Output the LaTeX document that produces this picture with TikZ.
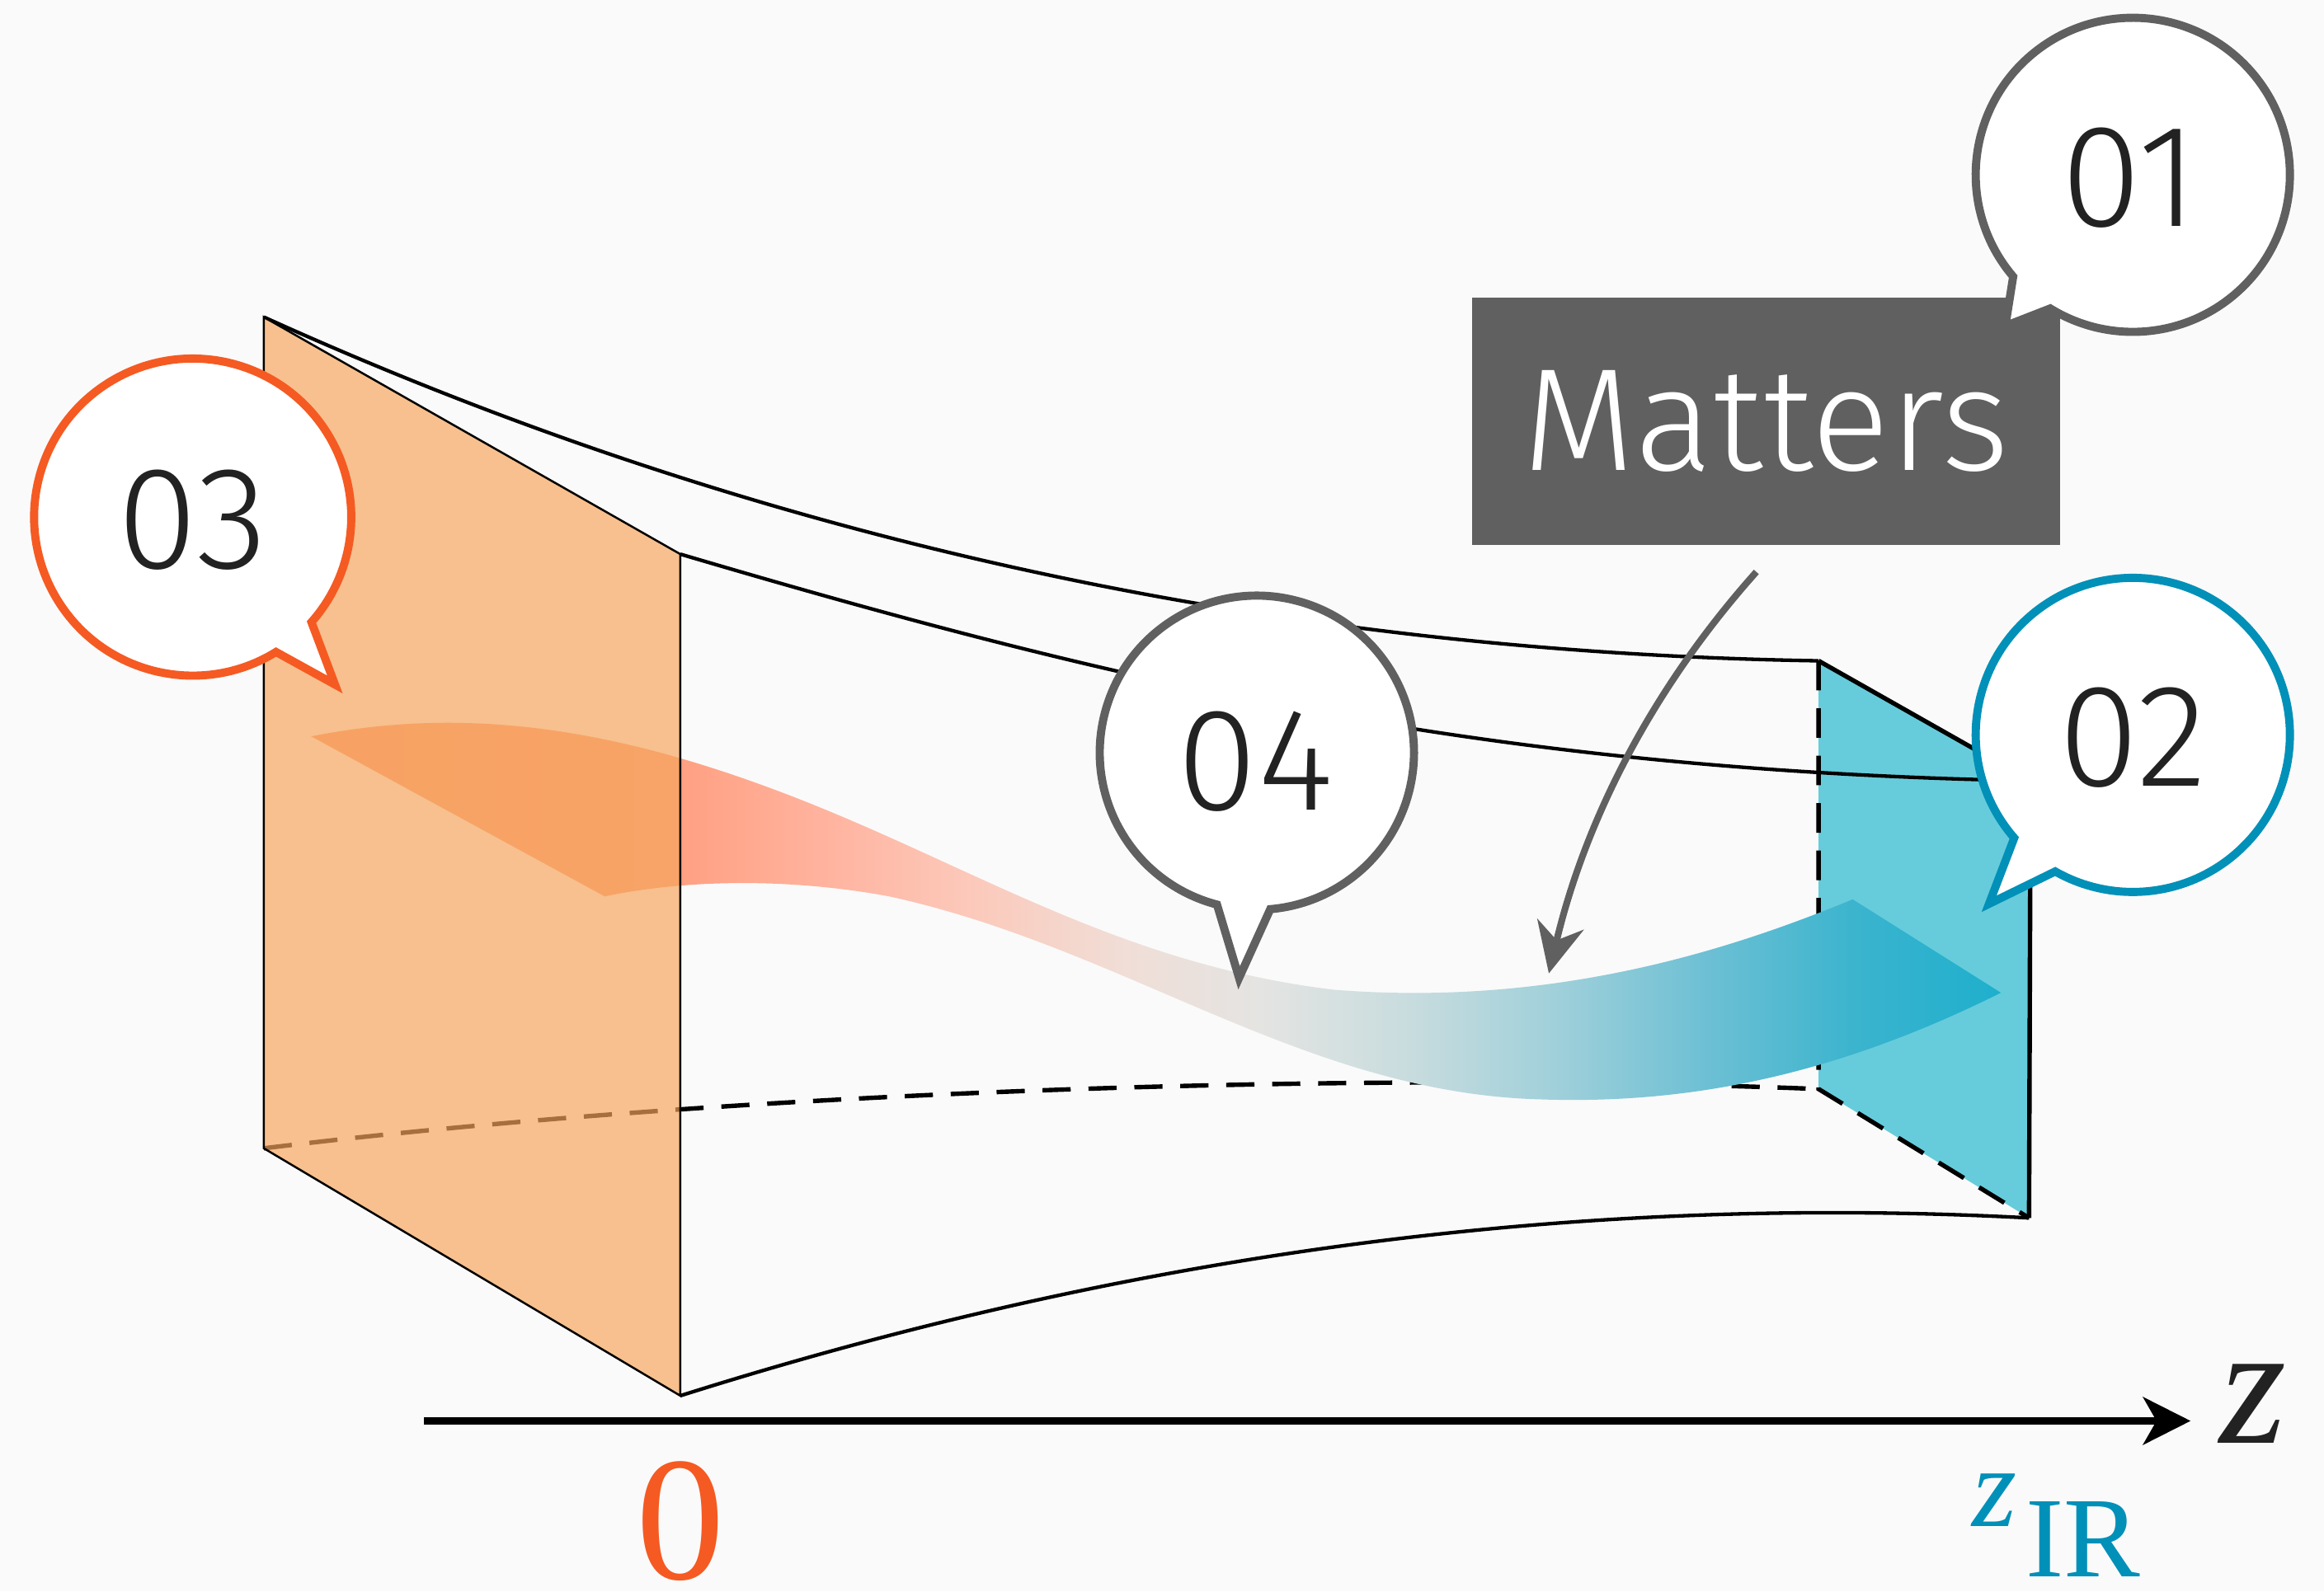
\documentclass[tikz,border=0pt]{standalone}
\usepackage{fontspec}
\setmainfont{Liberation Serif}
\IfFontExistsTF{Fira Sans Light}{\newfontfamily\bubfont{Fira Sans Light}\def\bubsize{28}}{\newfontfamily\bubfont{Liberation Sans}\def\bubsize{27}}
\usetikzlibrary{arrows.meta,calc}
\definecolor{bgc}{HTML}{FAFAFA}
\definecolor{plor}{RGB}{246,165,91}
\definecolor{cyanpl}{HTML}{66CCDB}
\definecolor{grayc}{HTML}{606060}
\definecolor{orc}{HTML}{F55A22}
\definecolor{tealc}{HTML}{0090B8}
\definecolor{txtc}{HTML}{222222}
\definecolor{ra}{RGB}{250,158,118}
\definecolor{rb}{RGB}{255,160,130}
\definecolor{rc}{RGB}{255,180,160}
\definecolor{rd}{RGB}{252,200,185}
\definecolor{re}{RGB}{240,222,215}
\definecolor{rf}{RGB}{228,228,226}
\definecolor{rg}{RGB}{200,220,222}
\definecolor{rh}{RGB}{160,208,218}
\definecolor{ri}{RGB}{110,192,212}
\definecolor{rj}{RGB}{60,180,206}
\definecolor{rk}{RGB}{30,175,205}
\pgfdeclarehorizontalshading{ribbonshade}{100bp}{color(0bp)=(ra); color(25bp)=(ra); color(35.9bp)=(rb); color(40.4bp)=(rc); color(44.3bp)=(rd); color(49.1bp)=(re); color(53.1bp)=(rf); color(57.5bp)=(rg); color(61.8bp)=(rh); color(66.2bp)=(ri); color(70.6bp)=(rj); color(75bp)=(rk); color(100bp)=(rk)}
\tikzset{
  curveline/.style={line width=0.24mm, black},
  hiddenline/.style={line width=0.3mm, black, dash pattern=on 1.9mm off 1.2mm},
  planeedge/.style={line width=0.14mm, black},
  cyanedge/.style={line width=0.3mm, black},
  bubble/.style={line width=0.55mm, fill=white, line join=miter},
  numtxt/.style={text=txtc, font=\bubfont\fontsize{\bubsize}{\bubsize}\selectfont, inner sep=0pt},
}
\begin{document}
\begin{tikzpicture}[x=0.1mm,y=-0.1mm]
\useasboundingbox (0,0) rectangle (1568,1074);
\fill[bgc] (0,0) rectangle (1568,1074);
% plane corners
\coordinate (OTL) at (178,214);
\coordinate (OTR) at (459,374);
\coordinate (OBR) at (459,942);
\coordinate (OBL) at (178,775);
\coordinate (CTL) at (1227,446);
\coordinate (CTR) at (1370,527);
\coordinate (CBR) at (1369,822);
\coordinate (CBL) at (1227,735);
% cyan plane (z_IR)
\fill[cyanpl] (CTL) -- (CTR) -- (CBR) -- (CBL) -- cycle;
\draw[cyanedge] (CTL) -- (CTR) -- (CBR);
\draw[cyanedge, dash pattern=on 2mm off 1.2mm] (CTL) -- (CBL) -- (CBR);
% bulk curves
\draw[curveline] (OTL) .. controls (500,360) and (850,440) .. (CTL);
\draw[curveline] (OTR) .. controls (750,460) and (1000,520) .. (CTR);
\draw[hiddenline] (OBL) .. controls (480,738) and (900,722) .. (CBL);
\draw[curveline] (OBR) .. controls (750,850) and (1050,805) .. (CBR);
% ribbon arrow
\shade[shading=ribbonshade] (210,497) .. controls (320,475) and (420,495) .. (520,532)
  .. controls (650,580) and (750,650) .. (900,668)
  .. controls (1050,680) and (1170,640) .. (1250,607)
  -- (1350,670)
  .. controls (1230,730) and (1130,745) .. (1040,742)
  .. controls (880,738) and (760,640) .. (600,605)
  .. controls (530,592) and (460,594) .. (408,605) -- cycle;
% orange plane (z=0)
\fill[plor, fill opacity=0.68] (OTL) -- (OTR) -- (OBR) -- (OBL) -- cycle;
\draw[planeedge] (OTL) -- (OTR) -- (OBR) -- (OBL) -- cycle;
% axis
\coordinate (ax0) at (286,959);
\coordinate (ax1) at (1478,959);
\draw[line width=0.5mm, -{Stealth[length=3.2mm,width=3.2mm,inset=0.9mm]}] (ax0) -- (ax1);
\node[text=txtc, font=\fontsize{33}{33}\selectfont\itshape, anchor=base west, inner sep=0pt] (labz) at (1497,974) {z};
\node[text=orc, font=\fontsize{34}{34}\selectfont, anchor=base, inner sep=0pt] (lab0) at (459,1066) {0};
\node[text=tealc, font=\fontsize{22}{22}\selectfont, anchor=base west, inner sep=0pt] (labzir) at (1330,1030) {\textit{z}\kern0.6mm\raisebox{-3.4mm}{IR}};
% Matters box and arrow
\node[fill=grayc, text=white, minimum width=39.7mm, minimum height=16.7mm, inner sep=0pt,
  font=\bubfont\fontsize{\bubsize}{\bubsize}\selectfont] (mat) at (1191.5,284.5) {Matters};
\coordinate (ma0) at (1185,386);
\coordinate (ma1) at (1045,657);
\draw[grayc, line width=0.45mm, -{Stealth[length=3.4mm,width=3.2mm,inset=1.1mm]}] (ma0) .. controls (1110,470) and (1068,560) .. (ma1);
% bubbles
\coordinate (c01) at (1439,118);
\coordinate (tip01) at (1353,220);
\draw[bubble, draw=grayc] ($(c01)+(139.6:106)$) arc[start angle=139.6, end angle=481.7, radius=106] -- (tip01) -- cycle;
\node[numtxt] (n01) at (1437,120) {01};
\coordinate (c02) at (1439,496);
\coordinate (tip02) at (1342,610);
\draw[bubble, draw=tealc] ($(c02)+(139:106)$) arc[start angle=139, end angle=479.6, radius=106] -- (tip02) -- cycle;
\node[numtxt] (n02) at (1439,498) {02};
\coordinate (c03) at (130,349);
\coordinate (tip03) at (226,462);
\draw[bubble, draw=orc] ($(c03)+(58.3:107)$) arc[start angle=58.3, end angle=401.5, radius=107] -- (tip03) -- cycle;
\node[numtxt] (n03) at (130,351) {03};
\coordinate (c04) at (848,508);
\coordinate (tip04) at (836,660);
\draw[bubble, draw=grayc] ($(c04)+(104.7:106)$) arc[start angle=104.7, end angle=445.1, radius=106] -- (tip04) -- cycle;
\node[numtxt] (n04) at (847,514) {04};
\end{tikzpicture}
\end{document}
